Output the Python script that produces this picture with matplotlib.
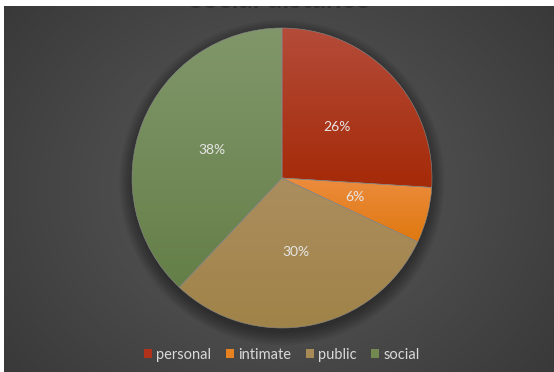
import numpy as np
import matplotlib.pyplot as plt
from matplotlib.colors import LinearSegmentedColormap
from matplotlib.patches import Circle, Patch, Rectangle

# Share of each distance zone
categories = ["personal", "intimate", "public", "social"]
shares = [26, 6, 30, 38]
labels = ["26%", "6%", "30%", "38%"]

# Top / bottom shade of each slice
top_colors = ["#b44c3a", "#ec8c3e", "#ab8e5e", "#81976b"]
bottom_colors = ["#a52a08", "#df780e", "#a08348", "#657f48"]
legend_colors = ["#b0321a", "#e8821e", "#a88a55", "#74894f"]

fig = plt.figure(figsize=(5.54, 3.72), dpi=100, facecolor="white")

# Dark radial background
bg = fig.add_axes([0, 0, 1, 1])
bg.set_axis_off()
yy, xx = np.mgrid[-1:1:400j, -1:1:600j]
rr = np.sqrt((xx * 0.95) ** 2 + (yy * 0.75) ** 2)
bg_cmap = LinearSegmentedColormap.from_list("bg", ["#575757", "#4a4a4a", "#383838"])
bg.imshow(rr, cmap=bg_cmap, aspect="auto", extent=[4, 554, 0, 366], vmin=0, vmax=1.25)
bg.set_xlim(0, 554)
bg.set_ylim(0, 372)

# Title sits mostly under the white top strip
bg.text(280, 372 - 8.5, "social distance", ha="center", va="baseline",
        fontsize=20, color="#303030", family="Lato", fontweight="bold", zorder=2)
bg.add_patch(Rectangle((0, 366), 554, 6, facecolor="white", edgecolor="none", zorder=3))

# Pie axes
r_px = 150
cx, cy = 282, 178
ax = fig.add_axes([(cx - r_px) / 554, (372 - cy - r_px) / 372, 2 * r_px / 554, 2 * r_px / 372])
ax.set_axis_off()

# soft shadow under the pie
for i in range(8):
    ax.add_patch(Circle((0, -0.03), 1.0 + 0.012 * i, color="black", alpha=0.05,
                        zorder=0, lw=0, clip_on=False))

wedges, texts = ax.pie(
    shares, labels=labels, startangle=90, counterclock=False, radius=1,
    labeldistance=0.5, wedgeprops=dict(linewidth=0.4, edgecolor="#8a8a8a"),
    textprops=dict(color="#e6e6e6", fontsize=10, family="Lato"),
)

# vertical gradient fill clipped to each wedge
for w, c_top, c_bot in zip(wedges, top_colors, bottom_colors):
    w.set_facecolor("none")
    w.set_zorder(2)
    ext = w.get_path().get_extents()
    grad = np.linspace(0, 1, 256).reshape(-1, 1)
    cmap = LinearSegmentedColormap.from_list("w", [c_bot, c_top])
    im = ax.imshow(grad, cmap=cmap, aspect="auto", zorder=1, origin="lower",
                   extent=[ext.x0, ext.x1, ext.y0, ext.y1])
    im.set_clip_path(w)
for t in texts:
    t.set_zorder(3)
    t.set_ha("center")
    t.set_va("center")
ax.set_xlim(-1, 1)
ax.set_ylim(-1, 1)
ax.set_aspect("equal")

handles = [Patch(facecolor=c, edgecolor="none") for c in legend_colors]
fig.legend(handles, categories, loc="center", bbox_to_anchor=(282 / 554, 1 - 355 / 372),
           ncol=4, frameon=False, handlelength=0.55, handleheight=0.55,
           handletextpad=0.3, columnspacing=1.0, labelcolor="#d9d9d9",
           prop=dict(family="Lato", size=10.5))

# white strip down the left side
bg.add_patch(Rectangle((0, 0), 4, 372, facecolor="white", edgecolor="none", zorder=3))

fig.savefig("out.png", dpi=100, facecolor="white")
